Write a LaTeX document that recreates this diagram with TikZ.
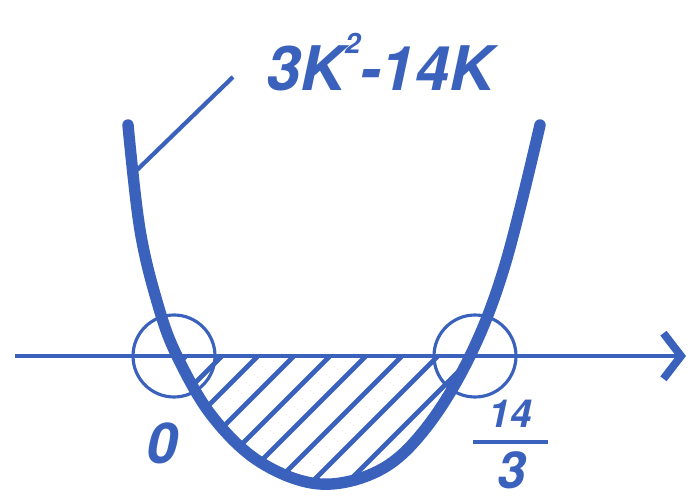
\documentclass[tikz,border=0pt]{standalone}
\usepackage{fontspec}
\setmainfont{TeX Gyre Heros}
\usetikzlibrary{arrows.meta}
\definecolor{penblue}{RGB}{58,98,189}
\tikzset{
  curve/.style={penblue, line width=6.5pt, line cap=round},
  axis/.style={penblue, line width=2.2pt},
  ring/.style={penblue, line width=1.8pt},
  hatch/.style={penblue, line width=2.8pt},
  handlbl/.style={penblue, font=\fontsize{32}{34}\selectfont\bfseries\itshape, inner sep=0pt}
}
\begin{document}
\begin{tikzpicture}[x=0.02cm, y=-0.02cm]
    \useasboundingbox (0,0) rectangle (688,499);
    % shaded part below the axis
    \begin{scope}
        \clip (0,356) rectangle (688,499);
        \clip plot[smooth, tension=0.6] coordinates {(128,125) (140,230) (158,305) (177,356) (212,416) (260,462) (320,484) (380,470) (426,428) (470,356) (505,265) (540,125)} -- cycle;
        \foreach \x in {186,222,...,650}
            \draw[hatch] (\x,356) -- ++(-160,160);
    \end{scope}
    % axis
    \draw[axis, -{Straight Barb[length=10pt, width=26pt, line width=4.5pt]}] (15,356) -- (686,356);
    % circles at the roots
    \draw[ring] (174,356) circle (41);
    \draw[ring] (475,356) circle (41);
    % the parabola
    \draw[curve] plot[smooth, tension=0.6] coordinates {(128,125) (140,230) (158,305) (177,356) (212,416) (260,462) (320,484) (380,470) (426,428) (470,356) (505,265) (540,125)};
    % labels
    \node[handlbl, font=\fontsize{35}{37}\selectfont\bfseries\itshape] (lbl) at (380,62) {3K\raisebox{1.1ex}{\fontsize{16}{16}\selectfont 2}-14K};
    \coordinate (tick) at (137,170);
    \coordinate (ptr) at (233,77);
    \draw[penblue, line width=2.4pt] (tick) -- (ptr);
    \node[handlbl] (zero) at (162,443) {0};
    \node[handlbl, font=\fontsize{22}{24}\selectfont\bfseries\itshape] (num) at (510,414) {14};
    \node[handlbl, font=\fontsize{29}{31}\selectfont\bfseries\itshape] (den) at (512,470) {3};
    \draw[penblue, line width=2.2pt] (473,442) -- (548,442);
\end{tikzpicture}
\end{document}
